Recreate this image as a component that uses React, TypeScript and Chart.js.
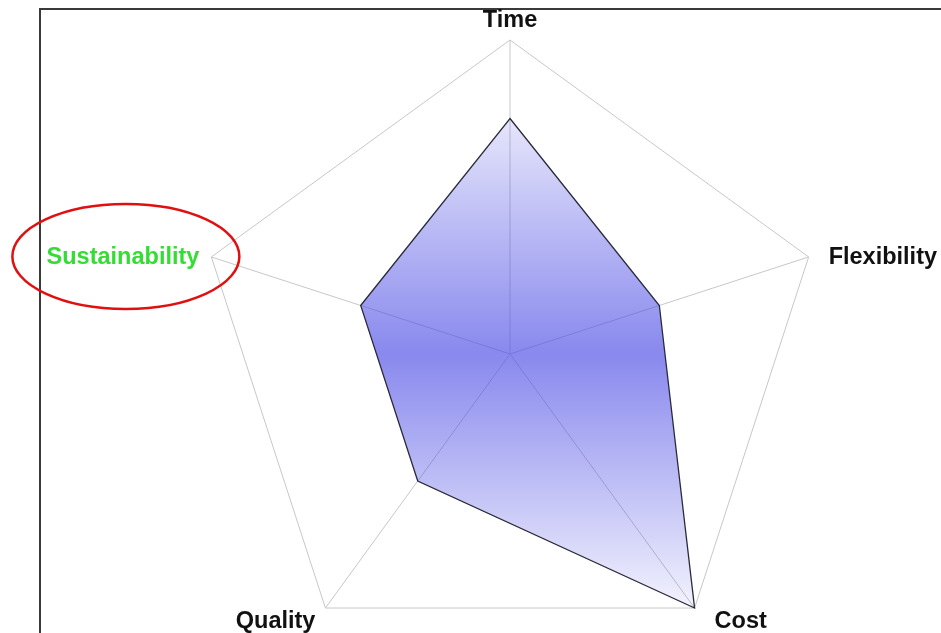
import React, { useEffect, useRef } from "react";
import { Chart, registerables } from "chart.js";

Chart.register(...registerables);

const axisLabels = ["Time", "Flexibility", "Cost", "Quality", "Sustainability"];
const scoreValues = [75, 50, 100, 50, 50];
const labelColors = ["#111111", "#111111", "#111111", "#111111", "#33dd33"];
const scaleMin = 0;
const scaleMax = 100;
const highlightedAxis = "Sustainability";

export default function App() {
  const ref = useRef<HTMLCanvasElement>(null);

  useEffect(() => {
    const canvas = ref.current!;

    const overlayPlugin = {
      id: "overlay",
      beforeDraw(chart: any) {
        const ctx = chart.ctx;
        ctx.save();
        ctx.fillStyle = "#ffffff";
        ctx.fillRect(0, 0, chart.width, chart.height);
        ctx.strokeStyle = "#3a3a3a";
        ctx.lineWidth = 2;
        ctx.beginPath();
        ctx.moveTo(40, chart.height);
        ctx.lineTo(40, 9);
        ctx.lineTo(chart.width, 9);
        ctx.stroke();
        ctx.restore();
      },
      afterDraw(chart: any) {
        const scale = chart.scales.r;
        const ctx = chart.ctx;
        ctx.save();
        ctx.font = "bold 23.5px 'Liberation Sans', Arial, sans-serif";
        axisLabels.forEach((label, i) => {
          const p = scale.getPointPosition(i, scale.drawingArea);
          const dx = p.x - scale.xCenter;
          const dy = p.y - scale.yCenter;
          let x = p.x;
          let y = p.y;
          ctx.textBaseline = "alphabetic";
          if (Math.abs(dx) < 1) {
            ctx.textAlign = "center";
            y = p.y - 13;
          } else if (dy < 0) {
            ctx.textAlign = dx > 0 ? "left" : "right";
            x = dx > 0 ? p.x + 20 : p.x - 12;
            y = p.y + 7;
          } else {
            ctx.textAlign = dx > 0 ? "left" : "right";
            x = dx > 0 ? p.x + 20 : p.x - 10;
            y = p.y + 20;
          }
          ctx.fillStyle = labelColors[i];
          ctx.fillText(label, x, y);
          if (label === highlightedAxis) {
            ctx.strokeStyle = "#e01010";
            ctx.lineWidth = 2.5;
            ctx.beginPath();
            ctx.ellipse(p.x - 85.5, p.y - 0.5, 113.5, 52.5, 0, 0, Math.PI * 2);
            ctx.stroke();
          }
        });
        ctx.restore();
      },
    };

    const chart = new Chart(canvas, {
      type: "radar",
      data: {
        labels: axisLabels,
        datasets: [
          {
            data: scoreValues,
            fill: true,
            borderColor: "#2a2a3a",
            borderWidth: 1.3,
            pointRadius: 0,
            pointHoverRadius: 0,
            backgroundColor: (context: any) => {
              const c = context.chart;
              const scale = c.scales.r;
              if (!scale || !scale.drawingArea) return "rgba(80,80,230,0.4)";
              const y0 = scale.yCenter - scale.drawingArea;
              const y1 = scale.yCenter + scale.drawingArea;
              const g = c.ctx.createLinearGradient(0, y0, 0, y1);
              g.addColorStop(0, "rgba(80,80,230,0.05)");
              g.addColorStop(0.124, "rgba(80,80,230,0.14)");
              g.addColorStop(0.5, "rgba(80,80,230,0.68)");
              g.addColorStop(0.904, "rgba(80,80,230,0.07)");
              g.addColorStop(1, "rgba(80,80,230,0.03)");
              return g;
            },
          },
        ],
      },
      options: {
        responsive: false,
        animation: false,
        devicePixelRatio: 1,
        layout: { padding: { left: 196, right: 117, top: 40, bottom: 32 } },
        plugins: {
          legend: { display: false },
          title: { display: false },
          tooltip: { enabled: false },
        },
        scales: {
          r: {
            min: scaleMin,
            max: scaleMax,
            startAngle: 0,
            ticks: { display: false, stepSize: 100 },
            grid: { color: "#c8c8c8", lineWidth: 1 },
            angleLines: { color: "#c8c8c8", lineWidth: 1 },
            pointLabels: { display: false },
          },
        },
      },
      plugins: [overlayPlugin],
    } as any);

    return () => chart.destroy();
  }, []);

  return (
    <div
      style={{
        position: "fixed",
        left: 0,
        top: 0,
        width: 941,
        height: 633,
        overflow: "hidden",
        background: "#ffffff",
      }}
    >
      <canvas ref={ref} width={941} height={700} style={{ display: "block" }} />
    </div>
  );
}
